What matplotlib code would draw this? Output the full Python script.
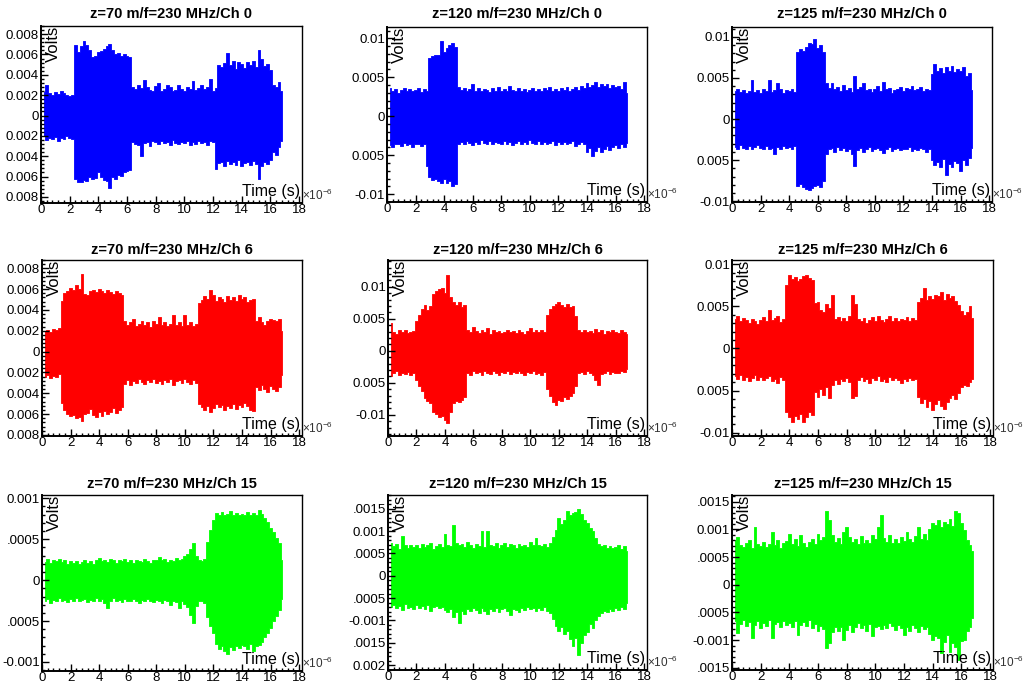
import numpy as np
import matplotlib
matplotlib.use("Agg")
import matplotlib.pyplot as plt
from matplotlib.ticker import MultipleLocator

plt.rcParams['font.family'] = ['Liberation Sans', 'DejaVu Sans']
plt.rcParams['mathtext.default'] = 'regular'

# sample times (us), envelope read every 0.2 us
t = np.round(np.arange(1, 85) * 0.2, 1)

# --- Ch 0 (mV) ---
ch0_z70_hi = [2.3, 3.0, 2.2, 2.0, 2.3, 2.1, 2.4, 2.2, 2.0, 1.9,
              2.0, 6.9, 6.2, 6.8, 7.3, 6.9, 6.4, 5.8, 5.9, 6.2,
              6.3, 6.5, 6.8, 7.0, 6.4, 6.0, 6.1, 5.9, 6.0, 5.9,
              5.8, 2.8, 2.6, 3.0, 2.7, 3.5, 2.8, 2.5, 2.4, 2.9,
              3.2, 2.4, 2.6, 3.0, 2.8, 2.4, 2.5, 3.0, 2.6, 2.4,
              2.8, 2.6, 3.4, 2.5, 2.7, 3.0, 2.6, 2.8, 3.6, 2.4,
              2.7, 5.0, 4.8, 5.2, 6.1, 5.0, 5.4, 4.6, 5.3, 5.1,
              4.7, 5.3, 5.0, 5.4, 4.8, 6.4, 5.6, 4.9, 5.1, 4.5,
              3.0, 2.8, 3.3, 2.4]
ch0_z70_lo = [-2.0, -2.4, -2.2, -2.3, -2.1, -2.5, -2.2, -2.3, -2.0, -2.2,
              -2.3, -6.2, -6.5, -6.5, -6.3, -6.4, -6.0, -6.2, -6.1, -5.6,
              -6.0, -6.3, -6.4, -7.1, -6.0, -6.2, -5.8, -5.9, -5.6, -5.5,
              -5.4, -2.6, -2.8, -2.9, -4.0, -2.7, -2.6, -3.0, -2.5, -2.6,
              -2.8, -2.5, -2.7, -2.6, -2.9, -2.4, -2.7, -2.8, -2.6, -2.7,
              -2.5, -2.9, -2.6, -2.8, -2.5, -2.7, -2.6, -2.9, -2.5, -2.6,
              -5.3, -4.7, -4.6, -5.0, -4.5, -4.8, -4.6, -4.9, -4.4, -5.0,
              -4.7, -4.6, -4.9, -4.5, -4.8, -6.2, -5.0, -4.6, -4.8, -4.4,
              -3.6, -3.9, -3.1, -2.5]

ch0_z120_hi = [3.6, 3.3, 3.5, 3.0, 3.4, 3.6, 3.2, 3.5, 3.3, 3.4,
               3.6, 3.1, 3.5, 3.3, 7.5, 7.7, 7.8, 7.9, 9.7, 8.3,
               8.8, 9.1, 9.4, 8.9, 3.8, 3.4, 3.6, 3.2, 3.5, 4.1,
               3.3, 3.6, 3.2, 3.5, 3.4, 3.1, 3.6, 3.3, 3.7, 3.2,
               3.5, 3.3, 3.9, 3.4, 3.2, 3.6, 3.3, 3.5, 3.1, 3.4,
               3.6, 3.3, 3.5, 3.2, 3.6, 3.4, 3.7, 3.3, 3.5, 3.2,
               3.6, 3.4, 3.8, 3.3, 3.5, 3.7, 3.4, 3.9, 3.6, 4.3,
               3.7, 4.0, 4.4, 3.8, 4.1, 3.9, 4.2, 3.6, 4.0, 3.7,
               3.9, 3.5, 4.4, 3.0]
ch0_z120_lo = [-3.7, -3.9, -3.5, -3.6, -3.8, -3.4, -3.7, -3.5, -3.9, -3.6,
               -3.5, -3.8, -3.6, -6.4, -7.8, -8.2, -8.0, -8.3, -8.5, -8.1,
               -8.6, -8.3, -9.0, -8.7, -3.5, -3.3, -3.6, -3.2, -3.4, -3.7,
               -3.3, -3.5, -3.1, -3.4, -3.6, -3.2, -3.5, -3.3, -3.4, -3.6,
               -3.2, -3.5, -3.3, -3.7, -3.4, -3.2, -3.5, -3.3, -3.6, -3.1,
               -3.4, -3.6, -3.2, -3.5, -3.3, -3.6, -3.4, -3.2, -3.7, -3.3,
               -3.5, -3.3, -3.6, -3.4, -3.2, -3.8, -3.5, -3.3, -3.6, -4.6,
               -4.1, -5.1, -4.4, -3.9, -4.6, -4.2, -3.8, -4.3, -4.0, -3.7,
               -4.1, -3.6, -3.9, -3.4]

ch0_z125_hi = [3.4, 3.6, 3.3, 3.5, 3.2, 3.4, 4.8, 3.3, 3.5, 3.2,
               3.6, 3.4, 4.8, 3.3, 3.5, 4.4, 3.6, 3.2, 3.5, 3.4,
               3.7, 3.3, 8.1, 8.5, 8.3, 8.8, 9.2, 9.1, 9.7, 8.6,
               9.0, 8.2, 4.4, 3.8, 4.4, 3.6, 3.9, 3.4, 4.2, 3.5,
               3.8, 3.3, 5.2, 3.6, 3.9, 4.4, 3.5, 3.7, 3.3, 3.6,
               4.0, 3.4, 4.5, 3.6, 3.8, 3.2, 3.5, 3.7, 3.9, 3.4,
               3.8, 3.6, 4.0, 3.5, 3.7, 3.9, 3.4, 3.6, 3.5, 5.5,
               6.7, 5.8, 6.2, 5.6, 6.3, 5.9, 6.5, 5.7, 6.1, 5.8,
               6.3, 5.2, 5.6, 3.5]
ch0_z125_lo = [-3.4, -3.6, -3.2, -3.5, -3.7, -3.3, -3.6, -3.4, -3.2, -3.5,
               -3.7, -3.3, -3.6, -3.5, -4.3, -3.4, -3.6, -3.3, -3.5, -3.4,
               -3.6, -3.3, -8.2, -7.9, -8.3, -8.5, -8.6, -8.4, -8.2, -8.0,
               -8.3, -7.6, -4.3, -3.7, -3.5, -4.0, -3.4, -3.8, -3.5, -3.9,
               -3.6, -4.2, -5.7, -3.8, -3.5, -4.0, -3.6, -3.4, -3.9, -3.7,
               -3.5, -3.8, -4.1, -3.6, -3.4, -3.9, -3.7, -3.5, -3.8, -3.6,
               -3.7, -3.4, -3.9, -3.6, -3.8, -3.5, -3.7, -4.0, -3.6, -5.0,
               -5.6, -5.2, -5.9, -4.9, -6.8, -5.5, -5.8, -5.1, -5.4, -6.3,
               -5.0, -5.6, -4.7, -3.5]

# --- Ch 6 (mV) ---
ch6_z70_hi = [2.0, 2.1, 1.9, 2.2, 2.1, 2.3, 4.9, 5.6, 5.8, 6.1,
              5.9, 6.4, 6.0, 7.5, 5.5, 5.4, 5.8, 5.9, 5.7, 6.0,
              5.8, 5.6, 5.9, 5.7, 5.5, 5.8, 5.6, 5.4, 2.9, 2.6,
              2.8, 3.1, 2.5, 2.7, 2.9, 2.6, 2.8, 2.4, 2.9, 2.7,
              3.3, 2.6, 2.8, 2.5, 2.7, 3.5, 2.6, 2.8, 2.5, 3.5,
              2.6, 2.8, 2.5, 2.7, 4.7, 5.0, 5.3, 5.1, 5.9, 5.4,
              4.9, 5.2, 5.1, 4.8, 5.3, 5.0, 5.2, 4.9, 5.4, 5.1,
              5.2, 4.8, 5.0, 5.1, 2.9, 3.3, 2.8, 2.6, 2.9, 3.1,
              3.0, 2.9, 3.1, 2.0]
ch6_z70_lo = [-2.4, -2.2, -2.5, -2.3, -2.4, -2.1, -4.9, -5.6, -6.0, -6.2,
              -6.1, -6.4, -6.3, -6.7, -6.0, -5.9, -5.5, -6.1, -6.3, -5.8,
              -6.2, -5.7, -6.0, -5.8, -5.4, -5.9, -5.6, -5.3, -3.1, -2.7,
              -3.2, -2.8, -3.0, -2.6, -2.9, -3.1, -2.7, -2.9, -2.6, -3.0,
              -2.8, -3.1, -2.7, -2.9, -2.6, -3.2, -2.8, -2.7, -3.0, -2.6,
              -2.9, -3.1, -2.7, -3.0, -5.0, -5.3, -5.6, -5.2, -5.8, -5.4,
              -5.0, -5.3, -5.1, -5.6, -5.2, -5.4, -5.0, -5.5, -5.1, -5.3,
              -4.9, -5.2, -5.6, -5.7, -3.4, -3.7, -3.2, -3.6, -3.9, -3.3,
              -3.6, -3.8, -3.4, -2.2]

ch6_z120_hi = [4.3, 3.0, 2.7, 3.2, 2.9, 3.3, 2.8, 3.0, 3.1, 4.6,
               5.6, 6.6, 7.1, 6.4, 7.0, 8.9, 9.3, 9.6, 9.8, 9.1,
               11.8, 8.4, 7.6, 7.2, 7.7, 6.9, 7.1, 3.2, 3.0, 3.8,
               3.1, 2.8, 3.3, 3.0, 3.5, 2.7, 3.2, 2.9, 3.1, 2.8,
               3.0, 3.3, 2.9, 3.1, 2.8, 3.2, 3.0, 2.7, 3.1, 3.6,
               3.0, 3.2, 2.9, 3.3, 3.0, 5.6, 6.5, 7.0, 7.3, 7.6,
               7.1, 6.8, 7.3, 6.9, 7.0, 5.4, 3.2, 3.0, 3.3, 2.9,
               3.1, 2.8, 3.4, 3.0, 3.2, 2.7, 3.1, 2.9, 3.3, 3.0,
               2.8, 3.2, 3.0, 2.6]
ch6_z120_lo = [-4.0, -3.5, -3.2, -3.7, -3.4, -3.6, -3.3, -3.8, -3.5, -4.5,
               -5.5, -6.3, -7.4, -7.9, -8.2, -9.5, -9.9, -10.3, -10.1, -10.8,
               -11.2, -9.6, -8.2, -7.9, -8.0, -7.6, -7.2, -3.4, -3.7, -3.2,
               -3.5, -3.3, -3.7, -3.1, -3.4, -3.6, -3.2, -3.5, -3.8, -3.3,
               -3.4, -3.2, -3.6, -3.3, -3.5, -3.1, -3.4, -3.7, -3.3, -3.5,
               -3.2, -3.6, -3.4, -3.7, -3.3, -6.0, -7.0, -8.0, -8.4, -7.6,
               -7.8, -7.2, -7.5, -7.0, -6.6, -5.5, -3.5, -3.3, -3.6, -3.2,
               -3.4, -3.7, -4.5, -5.3, -3.6, -3.4, -3.2, -3.6, -3.3, -3.5,
               -3.4, -3.1, -3.3, -2.8]

ch6_z125_hi = [3.5, 3.9, 3.2, 3.6, 3.4, 3.0, 3.5, 3.3, 2.9, 3.4,
               3.7, 3.2, 4.6, 3.4, 3.6, 3.8, 3.1, 3.5, 7.5, 8.7,
               8.2, 8.5, 8.0, 8.3, 8.6, 8.7, 8.4, 8.1, 5.4, 5.5,
               4.6, 4.3, 5.3, 4.8, 6.3, 3.5, 3.7, 3.2, 3.6, 3.3,
               3.8, 6.3, 5.3, 3.5, 3.2, 3.6, 3.0, 3.4, 3.7, 3.3,
               3.9, 3.4, 3.1, 3.5, 3.8, 3.3, 3.6, 3.2, 3.5, 3.4,
               3.7, 3.3, 3.6, 3.4, 5.5, 6.0, 7.2, 5.8, 6.2, 5.9,
               6.4, 6.2, 6.7, 5.7, 6.5, 6.0, 6.2, 5.6, 5.2, 4.5,
               4.0, 4.3, 5.0, 3.6]
ch6_z125_lo = [-3.3, -3.6, -3.1, -3.8, -3.4, -3.9, -3.5, -3.2, -3.7, -3.4,
               -3.8, -3.5, -3.3, -3.9, -3.6, -4.1, -3.4, -3.7, -7.6, -8.2,
               -8.7, -8.0, -8.4, -7.8, -8.7, -8.1, -7.6, -7.9, -5.2, -5.8,
               -4.8, -5.5, -4.6, -5.9, -4.3, -3.8, -4.2, -3.6, -3.9, -3.5,
               -4.0, -5.9, -5.6, -3.8, -3.4, -3.9, -3.6, -4.1, -3.5, -3.8,
               -3.3, -3.9, -3.6, -4.0, -3.4, -3.8, -3.5, -3.7, -4.1, -3.6,
               -3.9, -3.5, -3.8, -3.6, -5.8, -6.5, -6.0, -6.9, -6.3, -7.3,
               -6.6, -6.1, -6.8, -7.2, -6.4, -5.9, -5.5, -6.0, -5.3, -4.6,
               -4.3, -4.5, -4.0, -3.6]

# --- Ch 15 (units of 0.1 mV) ---
ch15_z70_hi = [2.2, 2.6, 2.1, 2.5, 2.3, 2.6, 2.2, 2.4, 2.0, 2.3,
               2.1, 2.3, 2.0, 2.2, 2.4, 2.1, 2.3, 2.0, 2.4, 2.7,
               2.3, 2.5, 2.2, 2.6, 2.4, 2.1, 2.5, 2.3, 2.6, 2.2,
               2.4, 2.1, 2.5, 2.3, 2.2, 2.6, 2.3, 2.1, 2.4, 2.5,
               2.8, 2.4, 2.6, 2.2, 2.5, 2.3, 2.7, 2.4, 2.6, 2.9,
               3.2, 3.8, 4.5, 3.0, 2.4, 2.3, 2.6, 4.7, 6.1, 7.3,
               8.2, 8.0, 8.3, 7.9, 8.1, 8.4, 8.0, 8.2, 7.9, 8.1,
               8.0, 8.3, 7.9, 8.2, 8.0, 8.6, 8.1, 7.6, 7.1, 6.4,
               5.9, 5.2, 4.5, 2.4]
ch15_z70_lo = [-2.6, -2.3, -2.8, -2.4, -2.5, -2.2, -2.6, -2.4, -2.7, -2.3,
               -2.5, -2.2, -2.6, -2.4, -2.3, -2.7, -2.4, -2.5, -2.2, -2.6,
               -2.3, -2.8, -3.4, -2.5, -2.2, -2.6, -2.4, -2.7, -2.3, -2.5,
               -2.6, -2.3, -2.5, -2.8, -2.4, -2.6, -2.3, -2.5, -2.7, -2.4,
               -2.5, -2.8, -2.4, -2.6, -3.0, -2.5, -2.7, -3.4, -2.6, -2.9,
               -3.3, -4.2, -5.2, -3.1, -2.6, -2.5, -2.8, -4.5, -5.6, -6.5,
               -7.8, -8.4, -8.0, -8.7, -9.0, -8.2, -8.5, -8.0, -8.3, -7.9,
               -8.1, -8.4, -7.8, -8.6, -8.0, -7.9, -7.6, -7.0, -6.4, -5.8,
               -5.0, -4.4, -3.6, -2.3]

ch15_z120_hi = [7.4, 6.6, 7.2, 6.1, 8.9, 6.8, 6.3, 7.0, 6.5, 6.9,
                6.2, 7.1, 6.4, 6.8, 7.3, 6.0, 6.7, 7.2, 6.4, 9.3,
                7.0, 6.6, 11.3, 7.4, 6.8, 7.1, 6.5, 7.6, 6.9, 6.3,
                7.2, 6.7, 10.0, 6.5, 10.0, 7.0, 6.6, 7.3, 6.2, 6.9,
                7.4, 6.5, 7.1, 6.8, 6.3, 7.2, 6.6, 7.0, 6.4, 7.5,
                6.8, 8.4, 7.0, 6.6, 7.2, 6.5, 7.3, 8.8, 10.2, 13.0,
                11.5, 12.6, 14.5, 13.7, 14.1, 14.3, 15.0, 13.9, 12.4, 11.9,
                10.8, 10.0, 8.5, 7.2, 6.6, 6.9, 6.3, 6.7, 6.2, 6.5,
                6.8, 6.1, 6.6, 5.5]
ch15_z120_lo = [-7.0, -6.5, -7.3, -6.8, -7.6, -6.4, -7.1, -6.9, -7.4, -6.6,
                -7.2, -6.8, -7.5, -6.6, -7.8, -7.0, -6.7, -7.3, -6.9, -7.6,
                -8.2, -7.4, -9.3, -8.0, -10.5, -7.8, -8.6, -7.5, -7.9, -7.2,
                -7.7, -8.3, -7.1, -7.9, -8.5, -7.4, -7.8, -7.2, -8.0, -7.5,
                -7.3, -7.9, -8.8, -7.4, -7.7, -8.1, -7.2, -7.6, -7.0, -7.4,
                -7.1, -7.8, -7.3, -7.6, -7.0, -7.9, -8.4, -9.6, -11.2, -12.4,
                -11.4, -13.0, -12.3, -14.2, -15.7, -14.0, -17.8, -15.1, -13.2, -12.6,
                -10.8, -11.6, -9.9, -9.0, -8.4, -7.8, -8.2, -7.5, -7.9, -7.3,
                -7.6, -7.0, -7.4, -6.2]

ch15_z125_hi = [8.0, 8.6, 7.2, 6.8, 7.5, 8.1, 6.6, 10.4, 7.4, 7.0,
                7.8, 6.9, 7.3, 9.5, 7.1, 8.0, 6.7, 7.6, 7.9, 9.2,
                7.4, 8.3, 7.0, 9.0, 7.5, 6.8, 7.7, 8.2, 7.3, 9.2,
                8.0, 8.7, 13.4, 11.6, 9.0, 7.8, 8.5, 7.4, 9.6, 10.4,
                8.6, 7.7, 8.2, 7.3, 8.8, 7.6, 8.1, 7.5, 9.0, 8.3,
                10.4, 12.6, 8.4, 7.8, 8.9, 7.5, 8.2, 7.6, 8.6, 7.9,
                9.5, 8.2, 7.7, 8.8, 10.4, 8.3, 9.1, 8.0, 10.0, 11.2,
                10.8, 11.6, 10.5, 11.3, 10.9, 11.8, 10.6, 13.4, 12.9, 11.2,
                9.8, 8.1, 7.2, 6.0]
ch15_z125_lo = [-6.6, -8.8, -7.1, -6.4, -7.5, -6.8, -9.7, -7.2, -6.5, -7.8,
                -6.9, -7.4, -6.3, -9.6, -7.1, -6.7, -7.6, -6.5, -7.3, -7.0,
                -7.7, -6.6, -9.1, -7.2, -6.8, -7.5, -6.4, -7.9, -7.1, -8.3,
                -7.4, -8.0, -11.5, -10.6, -8.6, -7.7, -8.3, -7.6, -9.9, -8.1,
                -7.3, -8.5, -7.6, -7.0, -7.9, -7.2, -8.4, -7.1, -9.3, -7.7,
                -7.4, -8.0, -7.2, -7.8, -6.9, -7.5, -8.2, -7.3, -7.9, -9.1,
                -7.6, -8.3, -7.2, -7.8, -8.6, -7.4, -8.0, -7.7, -8.9, -10.0,
                -9.2, -9.6, -12.4, -10.3, -9.0, -12.1, -10.5, -11.2, -13.6, -10.2,
                -9.9, -8.4, -7.6, -6.0]

zs = [70, 120, 125]
chans = [0, 6, 15]
colors = ['#0000ff', '#ff0000', '#00ff00']
scales = [1e-3, 1e-3, 1e-4]
data = [[(ch0_z70_hi, ch0_z70_lo), (ch0_z120_hi, ch0_z120_lo), (ch0_z125_hi, ch0_z125_lo)],
        [(ch6_z70_hi, ch6_z70_lo), (ch6_z120_hi, ch6_z120_lo), (ch6_z125_hi, ch6_z125_lo)],
        [(ch15_z70_hi, ch15_z70_lo), (ch15_z120_hi, ch15_z120_lo), (ch15_z125_hi, ch15_z125_lo)]]

# y axis per panel: limits, major ticks, visible labels (ROOT clips the minus), minor step
ylims = [[(-0.0086, 0.0088), (-0.0110, 0.01145), (-0.0101, 0.0112)],
         [(-0.0081, 0.0088), (-0.0133, 0.0142), (-0.0104, 0.0105)],
         [(-0.00111, 0.00104), (-0.00211, 0.00181), (-0.00154, 0.00162)]]
yt_mv8 = [-0.008, -0.006, -0.004, -0.002, 0, 0.002, 0.004, 0.006, 0.008]
yl_mv8 = ['0.008', '0.006', '0.004', '0.002', '0', '0.002', '0.004', '0.006', '0.008']
yt_10 = [-0.01, -0.005, 0, 0.005, 0.01]
yl_10 = ['-0.01', '0.005', '0', '0.005', '0.01']
yticks = [[(yt_mv8, yl_mv8, 0.0004), (yt_10, yl_10, 0.001), (yt_10, yl_10, 0.001)],
          [(yt_mv8, yl_mv8, 0.0004), (yt_10, yl_10, 0.001), (yt_10, yl_10, 0.001)],
          [([-0.001, -0.0005, 0, 0.0005, 0.001], ['-0.001', '.0005', '0', '.0005', '0.001'], 0.0001),
           ([-0.002, -0.0015, -0.001, -0.0005, 0, 0.0005, 0.001, 0.0015],
            ['0.002', '.0015', '-0.001', '.0005', '0', '.0005', '0.001', '.0015'], 0.0001),
           ([-0.0015, -0.001, -0.0005, 0, 0.0005, 0.001, 0.0015],
            ['.0015', '-0.001', '.0005', '0', '.0005', '0.001', '.0015'], 0.0001)]]

W, H = 1023, 683
# frame boxes in pixels: left, right, top, bottom
frames = [[(41, 302, 26, 203), (387, 647, 27, 202), (732, 992, 27, 202)],
          [(42, 302, 260, 436), (388, 647, 260, 436), (732, 993, 260, 436)],
          [(42, 302, 495, 671), (388, 647, 495, 670), (732, 993, 495, 670)]]
title_y = [14, 250, 484]

fig = plt.figure(figsize=(W / 100, H / 100), dpi=100)

for r in range(3):
    for c in range(3):
        l, rr, tp, bt = frames[r][c]
        ax = fig.add_axes([l / W, 1 - bt / H, (rr - l) / W, (bt - tp) / H])
        hi, lo = data[r][c]
        hi = np.array(hi) * scales[r]
        lo = np.array(lo) * scales[r]
        ax.fill_between(t, lo, hi, step='mid', color=colors[r], lw=0.6)

        ax.set_xlim(0, 18.2)
        ax.set_ylim(*ylims[r][c])
        ax.set_xticks(range(0, 19, 2))
        ax.xaxis.set_minor_locator(MultipleLocator(0.4))
        yt, yl, ym = yticks[r][c]
        ax.set_yticks(yt, yl)
        ax.yaxis.set_minor_locator(MultipleLocator(ym))
        ax.tick_params(which='both', direction='in', top=False, right=False,
                       labelsize=9.5, width=1.0, pad=1.5)
        ax.tick_params(axis='x', which='both', pad=0.8)
        ax.tick_params(which='major', length=5)
        ax.tick_params(which='minor', length=2.5)
        for s in ax.spines.values():
            s.set_linewidth(1.0)
        ax.spines['left'].set_linewidth(1.4)
        ax.spines['bottom'].set_linewidth(1.4)

        ax.annotate('Volts', xy=(0, 1), xycoords='axes fraction', xytext=(9, 0),
                    textcoords='offset points', rotation=90, ha='center', va='top',
                    fontsize=12)
        ax.annotate('Time (s)', xy=(1, 0), xycoords='axes fraction', xytext=(-1.5, 5),
                    textcoords='offset points', ha='right', va='baseline', fontsize=11.5)
        ax.annotate(r'$\times10^{-6}$', xy=(1, 0), xycoords='axes fraction', xytext=(0, 2),
                    textcoords='offset points', ha='left', va='baseline', fontsize=8.5,
                    color='#333333')

        fig.text((l + rr) / 2 / W, 1 - title_y[r] / H,
                 'z=%d m/f=230 MHz/Ch %d' % (zs[c], chans[r]),
                 ha='center', va='center', fontsize=10.5, fontweight='bold')

fig.savefig('out.png', dpi=100)
